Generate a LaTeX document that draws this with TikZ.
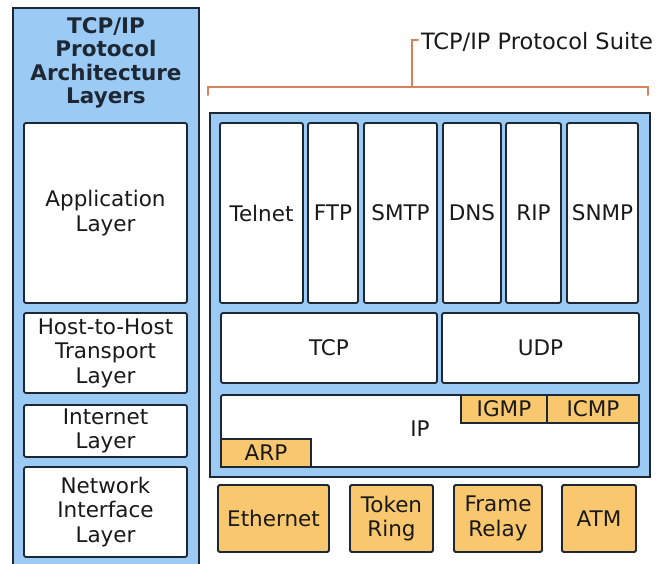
\documentclass[tikz,border=0pt]{standalone}
\usepackage{fontspec}
\setmainfont{DejaVu Sans}
\definecolor{panelblue}{RGB}{155,203,245}
\definecolor{protoorange}{RGB}{249,199,110}
\definecolor{edge}{RGB}{30,40,52}
\definecolor{bracketc}{RGB}{214,130,92}
\definecolor{txt}{RGB}{25,25,25}
\begin{document}
\begin{tikzpicture}[x=1pt,y=-1pt,
  every node/.style={inner sep=0pt, outer sep=0pt, text=txt,
    font=\fontsize{21.5}{24.5}\selectfont, align=center},
  panel/.style={draw=edge, line width=1.8pt, fill=panelblue},
  wbox/.style={draw=edge, line width=1.8pt, fill=white, rounded corners=2pt},
  obox/.style={draw=edge, line width=1.8pt, fill=protoorange, rounded corners=1.5pt},
  bracket/.style={draw=bracketc, line width=2pt, line cap=round}]
\useasboundingbox (0,0) rectangle (665,564);
\clip (0,0) rectangle (665,564);
\fill[white] (0,0) rectangle (665,564);

% left panel
\node[panel, minimum width=186pt, minimum height=562pt] (lp) at (106,289) {};
\node[font=\fontsize{21.5}{23.5}\selectfont\bfseries, text=edge] (ltitle) at (106,63)
  {TCP/IP\\Protocol\\Architecture\\Layers};
\node[wbox, minimum width=163pt, minimum height=180pt] (app) at (105.5,213) {Application\\Layer};
\node[wbox, minimum width=163pt, minimum height=80pt] (host) at (105.5,353) {Host-to-Host\\Transport\\Layer};
\node[wbox, minimum width=163pt, minimum height=52pt] (inet) at (105.5,431) {Internet\\Layer};
\node[wbox, minimum width=163pt, minimum height=90pt] (netif) at (105.5,512) {Network\\Interface\\Layer};

% bracket and label
\coordinate (bl) at (208,95);
\coordinate (blt) at (208,87);
\coordinate (brt) at (648,87);
\coordinate (br) at (648,95);
\coordinate (stem) at (412,87);
\coordinate (stemtop) at (412,40);
\coordinate (tick) at (418,40);
\draw[bracket] (bl) -- (blt) -- (brt) -- (br);
\draw[bracket] (stem) -- (stemtop) -- (tick);
\node[anchor=west, font=\fontsize{22.5}{26}\selectfont] (suite) at (421,42) {TCP/IP Protocol Suite};

% right panel
\node[panel, minimum width=440pt, minimum height=364pt] (rp) at (430,295) {};
\node[wbox, minimum width=83pt, minimum height=180pt] (telnet) at (261.5,213) {Telnet};
\node[wbox, minimum width=50pt, minimum height=180pt] (ftp) at (333,213) {FTP};
\node[wbox, minimum width=73pt, minimum height=180pt] (smtp) at (400.5,213) {SMTP};
\node[wbox, minimum width=58pt, minimum height=180pt] (dns) at (472,213) {DNS};
\node[wbox, minimum width=55pt, minimum height=180pt] (rip) at (533.5,213) {RIP};
\node[wbox, minimum width=71pt, minimum height=180pt] (snmp) at (602.5,213) {SNMP};
\node[wbox, minimum width=216pt, minimum height=70pt] (tcp) at (329,348) {TCP};
\node[wbox, minimum width=197pt, minimum height=70pt] (udp) at (540.5,348) {UDP};
\node[wbox, minimum width=418pt, minimum height=72pt] (ipbox) at (430,431) {};
\node (iplabel) at (420,429) {IP};
\node[obox, rounded corners=0pt, minimum width=86pt, minimum height=28pt] (igmp) at (504,409) {IGMP};
\node[obox, rounded corners=0pt, minimum width=92pt, minimum height=28pt] (icmp) at (593,409) {ICMP};
\node[obox, rounded corners=0pt, minimum width=90pt, minimum height=28pt] (arp) at (266,453) {ARP};

% network technologies
\node[obox, minimum width=111pt, minimum height=67pt] (eth) at (273.5,518.5) {Ethernet};
\node[obox, minimum width=83pt, minimum height=67pt] (token) at (391.5,518.5) {Token\\Ring};
\node[obox, minimum width=88pt, minimum height=67pt] (frame) at (498,518.5) {Frame\\Relay};
\node[obox, minimum width=74pt, minimum height=67pt] (atm) at (599,518.5) {ATM};
\end{tikzpicture}
\end{document}
